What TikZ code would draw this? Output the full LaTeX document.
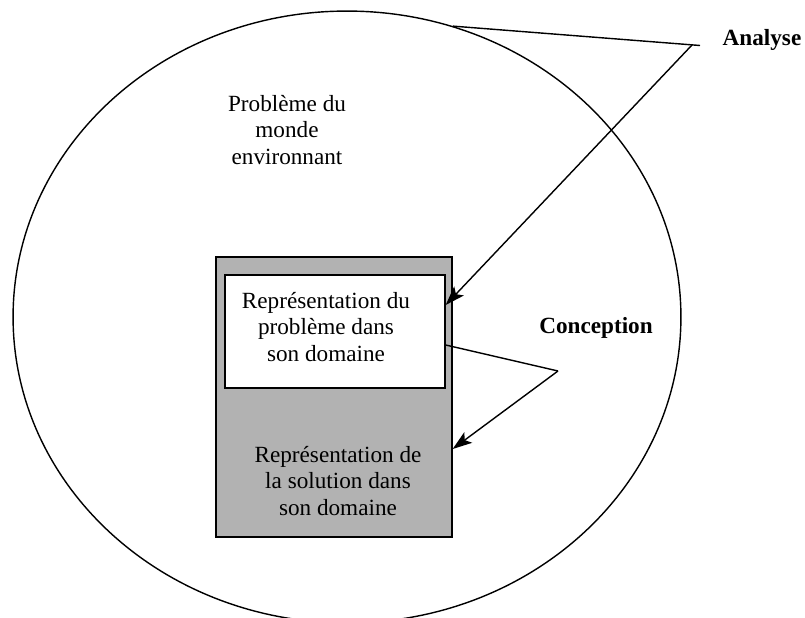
\documentclass[tikz,border=0pt]{standalone}
\usepackage{fontspec}
\setmainfont{Liberation Serif}
\usetikzlibrary{arrows.meta, positioning, shapes.geometric}

\begin{document}
\begin{tikzpicture}[
        x=0.02cm, y=-0.02cm,
        txt/.style={
            font=\fontsize{13.2}{15.3}\selectfont,
            align=center
        },
        tag/.style={
            font=\fontsize{13.2}{15.3}\selectfont\bfseries
        },
        box/.style={
            draw,
            line width=0.8pt,
            inner sep=0pt
        },
        link/.style={line width=0.8pt},
        arrowlink/.style={link, -{Stealth[length=11pt, width=7.5pt, inset=2.5pt]}}
    ]
        \useasboundingbox (0,0) rectangle (805,618);
        \clip (0,0) rectangle (805,618);

        % monde environnant
        \node[ellipse, draw, line width=0.8pt, minimum width=13.36cm, minimum height=12.24cm] (world) at (347,317) {};
        \node[txt] (worldtxt) at (287,130) {Problème du\\monde\\environnant};

        % boites
        \node[box, fill={rgb,255:red,178;green,178;blue,178}, minimum width=4.72cm, minimum height=5.6cm] (solbox) at (334,397) {};
        \node[box, fill=white, minimum width=4.4cm, minimum height=2.26cm] (probbox) at (335,331.5) {};
        \node[txt] (probtxt) at (326,327) {Représentation du\\problème dans\\son domaine};
        \node[txt] (soltxt) at (338,481) {Représentation de\\la solution dans\\son domaine};

        % analyse
        \node[tag] (analyse) at (762,40) {Analyse};
        \coordinate (apex) at (692,45);
        \coordinate (aend) at (700,45.5);
        \draw[link] (world.70) -- (aend);
        \draw[arrowlink] (apex) -- ([yshift=0.53cm]probbox.east);

        % conception
        \node[tag] (conception) at (596,328) {Conception};
        \coordinate (cpex) at (558,371);
        \draw[link] ([yshift=-0.27cm]probbox.east) -- (cpex);
        \draw[arrowlink] (cpex) -- ([yshift=-1.04cm]solbox.east);
    \end{tikzpicture}
\end{document}
